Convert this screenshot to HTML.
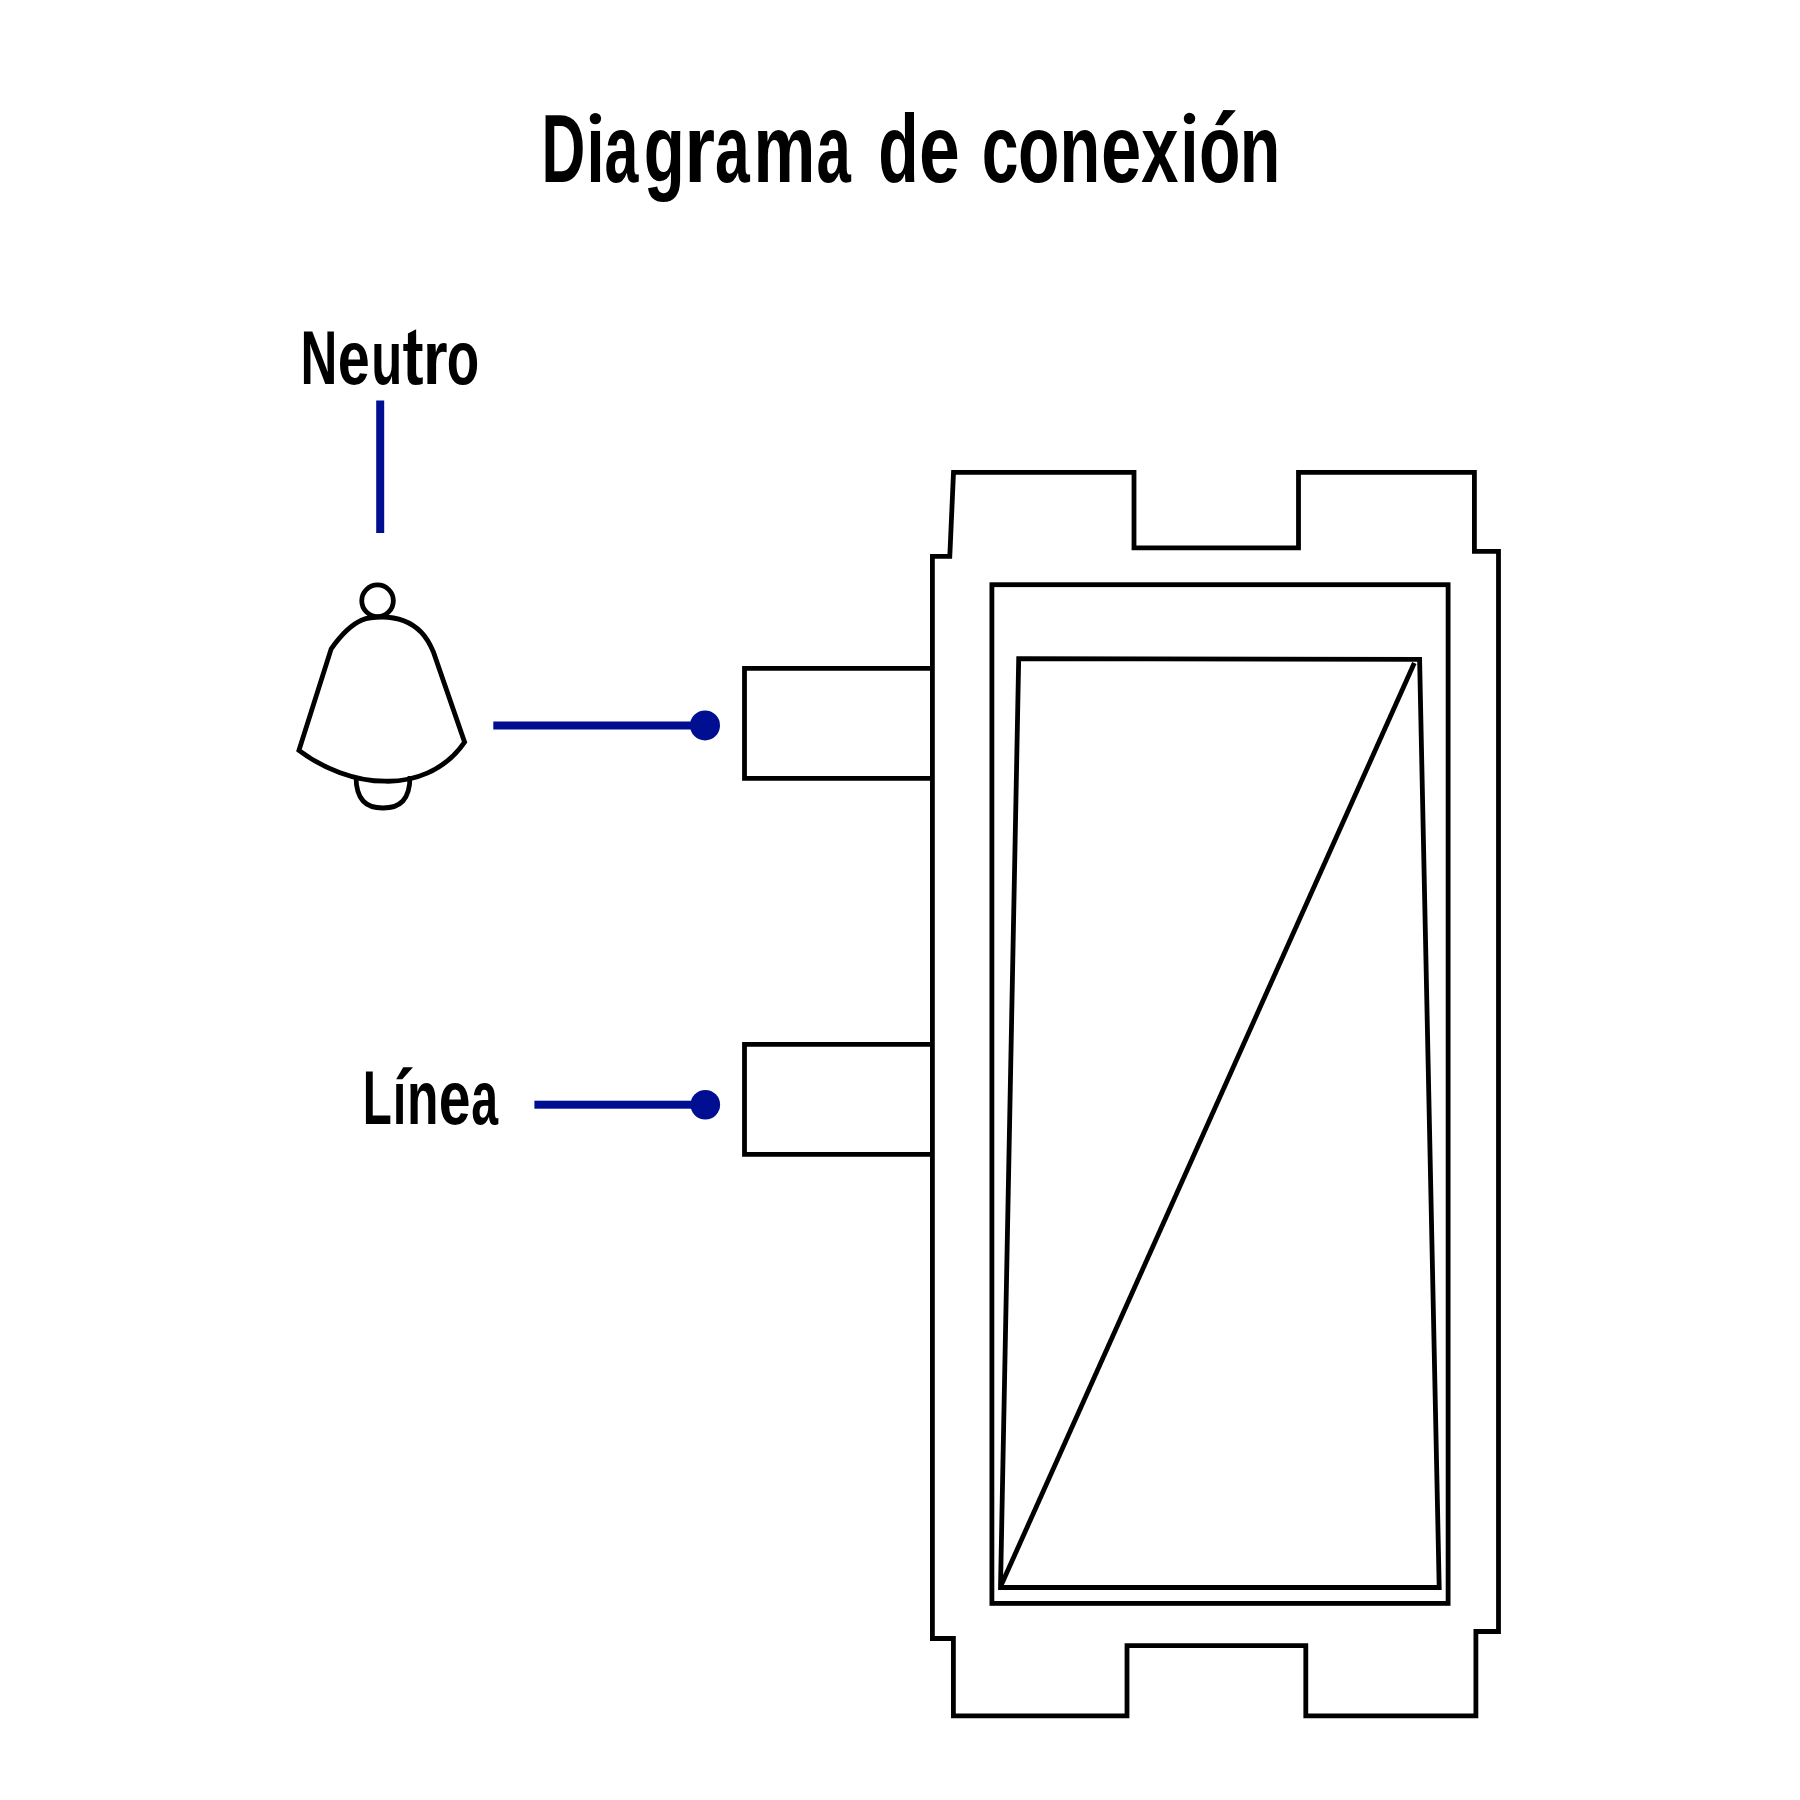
<!DOCTYPE html>
<html><head><meta charset="utf-8">
<style>
html,body{margin:0;padding:0;background:#fff;}
body{width:1800px;height:1800px;overflow:hidden;}
svg{display:block;}
text{font-family:"Liberation Sans",sans-serif;font-weight:bold;fill:#000;}
</style></head><body>
<svg width="1800" height="1800" viewBox="0 0 1800 1800">
<rect x="0" y="0" width="1800" height="1800" fill="#fff"/>
<!-- title -->
<g fill="#000">
<text transform="translate(541.54,181.7) scale(0.6292,1)" font-size="96.4">D</text>
<text transform="translate(586.20,181.7) scale(0.6880,1)" font-size="96.4">ı</text>
<text transform="translate(604.61,181.7) scale(0.6323,1)" font-size="96.4">a</text>
<text transform="translate(643.64,181.7) scale(0.6972,1)" font-size="96.4">g</text>
<text transform="translate(684.18,181.7) scale(0.8215,1)" font-size="96.4">r</text>
<text transform="translate(715.07,181.7) scale(0.6479,1)" font-size="96.4">a</text>
<text transform="translate(753.62,181.7) scale(0.7209,1)" font-size="96.4">m</text>
<text transform="translate(816.39,181.7) scale(0.6401,1)" font-size="96.4">a</text>
<text transform="translate(878.19,181.7) scale(0.6855,1)" font-size="96.4">d</text>
<text transform="translate(918.94,181.7) scale(0.7604,1)" font-size="96.4">e</text>
<text transform="translate(981.81,181.7) scale(0.6869,1)" font-size="96.4">c</text>
<text transform="translate(1017.95,181.7) scale(0.7030,1)" font-size="96.4">o</text>
<text transform="translate(1059.50,181.7) scale(0.6917,1)" font-size="96.4">n</text>
<text transform="translate(1101.07,181.7) scale(0.7518,1)" font-size="96.4">e</text>
<text transform="translate(1141.24,181.7) scale(0.6928,1)" font-size="96.4">x</text>
<text transform="translate(1180.36,181.7) scale(0.6804,1)" font-size="96.4">ı</text>
<text transform="translate(1199.05,181.7) scale(0.7049,1)" font-size="96.4">o</text>
<text transform="translate(1239.83,181.7) scale(0.6885,1)" font-size="96.4">n</text>
<text transform="translate(300.49,383.9) scale(0.6662,1)" font-size="76.6">N</text>
<text transform="translate(337.75,383.9) scale(0.7515,1)" font-size="76.6">e</text>
<text transform="translate(371.25,383.9) scale(0.6623,1)" font-size="76.6">u</text>
<text transform="translate(402.53,383.9) scale(0.8249,1)" font-size="76.6">t</text>
<text transform="translate(423.03,383.9) scale(0.8262,1)" font-size="76.6">r</text>
<text transform="translate(446.82,383.9) scale(0.6935,1)" font-size="76.6">o</text>
<text transform="translate(362.82,1123.8) scale(0.6223,1)" font-size="76.4">L</text>
<text transform="translate(392.64,1123.8) scale(0.6392,1)" font-size="76.4">ı</text>
<text transform="translate(407.00,1123.8) scale(0.6749,1)" font-size="76.4">n</text>
<text transform="translate(438.87,1123.8) scale(0.7481,1)" font-size="76.4">e</text>
<text transform="translate(471.29,1123.8) scale(0.6309,1)" font-size="76.4">a</text>
<path d="M407.9,345 L407.9,333.6 L416.1,329.3 L416.1,345 Z"/>
<circle cx="595.4" cy="118.6" r="5.7"/>
<circle cx="1189.5" cy="118.5" r="5.7"/>
<path d="M1223.4,110 L1235.9,110.2 L1222.6,125.3 L1215,125.1 Z"/>
<path d="M403.2,1067.2 L413,1067.3 L402.3,1079.2 L396.2,1079.2 Z"/>
</g>

<g fill="none" stroke="#000" stroke-width="4.8" stroke-linejoin="miter" stroke-miterlimit="10">
  <!-- switch outer body -->
  <path d="M932.4,556.4 L949.8,556.4 L953.5,472.4 L1134,472.4 L1134,547.9 L1298.5,547.9 L1298.5,472.4 L1474.4,472.4 L1474.4,551.4 L1498.5,551.4 L1498.5,1631.5 L1475.9,1631.5 L1475.9,1715.9 L1305.8,1715.9 L1305.8,1645.7 L1127,1645.7 L1127,1715.9 L953.4,1715.9 L953.4,1638.5 L932.4,1638.5 Z"/>
  <!-- frame -->
  <rect x="991.9" y="584.7" width="456.2" height="1018.7"/>
  <!-- rocker -->
  <path d="M1018.7,658.6 L1419.6,659.4 L1439.2,1587.5 L1000.5,1587.5 Z"/>
  <path d="M1414.3,663.1 L1000.8,1586"/>
  <!-- terminals -->
  <path d="M932.4,668.3 L744.5,668.3 L744.5,778.3 L932.4,778.3"/>
  <path d="M932.4,1044.3 L744.5,1044.3 L744.5,1154.3 L932.4,1154.3"/>
  <!-- bell -->
  <circle cx="377.55" cy="600.75" r="15.8"/>
  <path d="M298.9,750.4 L331.2,648.8 C336,642 348,626 362,620 C369,617 376,617 382,617 C398,617 412,623 421,632 C426,637 430,644 433.3,651.7 L464.6,742.1 C444,772 412,782 385,781.2 C355,781.2 322,768 298.9,750.4 Z"/>
  <path d="M356,776 C356,800 366,808 383,808 C400,808 410,800 410,776"/>
</g>
<g fill="#000e91" stroke="none">
  <rect x="376.2" y="400.5" width="8" height="132.5"/>
  <rect x="493.3" y="721.5" width="212" height="8"/>
  <circle cx="705" cy="725.4" r="15"/>
  <rect x="534.4" y="1100.7" width="171" height="8"/>
  <circle cx="705.3" cy="1104.8" r="14.8"/>
</g>
</svg>
</body></html>
